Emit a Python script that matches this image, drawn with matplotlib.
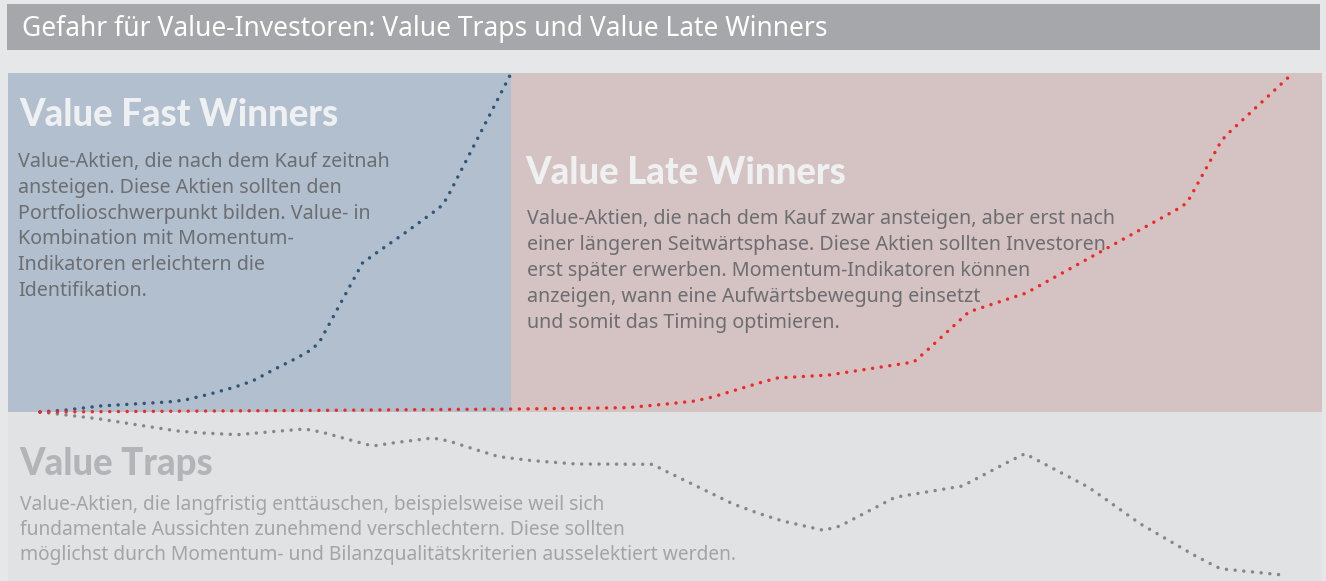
import matplotlib.pyplot as plt
from matplotlib.patches import Rectangle

# zeit (monate) und indexwerte, start = 100
t_fast = [0, 2.1, 4.8, 7.5, 10.2, 11.6, 13.6, 15.6, 17.0, 18.8, 20.7, 21.8, 22.4, 25.8, 26.9, 29.3, 31.6, 32.2, 32.6, 37.7]
v_fast = [100, 100.6, 101.8, 102.4, 103.0, 103.6, 105.4, 107.5, 109.3, 112.9, 116.5, 118.9, 121.3, 144.7, 147.7, 154.0, 160.3, 162.1, 164.5, 201.7]

t_late = [0, 20.8, 38.2, 47.0, 50.4, 52.4, 53.8, 57.8, 59.0, 63.1, 69.9, 71.0, 74.3, 75.0, 78.9, 91.3, 91.8, 94.5, 95.0, 99.9]
v_late = [100, 100.45, 100.9, 101.3, 102.5, 103.3, 104.5, 109.0, 110.2, 111.1, 115.0, 118.6, 130.0, 130.9, 135.7, 161.5, 163.0, 181.3, 183.4, 200.5]

t_trap = [0, 2.1, 4.8, 8.2, 11.0, 13.0, 15.8, 19.2, 21.2, 22.6, 25.3, 26.6, 28.6, 31.4, 32.7, 34.7, 36.7, 39.4, 42.9, 49.0,
          50.2, 55.4, 57.4, 59.4, 62.7, 64.0, 68.4, 69.0, 73.8, 77.5, 78.8, 83.8, 85.0, 88.0, 92.3, 94.2, 94.9, 99.7]
v_trap = [100, 99.1, 97.9, 95.9, 94.3, 93.7, 93.2, 94.3, 94.9, 93.9, 91.1, 89.8, 90.9, 92.2, 91.3, 88.9, 86.6, 85.4, 84.4, 84.3,
          82.0, 72.5, 69.7, 67.3, 64.5, 65.8, 74.4, 74.8, 77.8, 85.1, 87.5, 77.6, 74.5, 66.5, 57.1, 53.4, 52.8, 51.0]

titel = 'Gefahr für Value-Investoren: Value Traps und Value Late Winners'
txt_fast = ['Value-Aktien, die nach dem Kauf zeitnah',
            'ansteigen. Diese Aktien sollten den',
            'Portfolioschwerpunkt bilden. Value- in',
            'Kombination mit Momentum-',
            'Indikatoren erleichtern die',
            'Identifikation.']
txt_late = ['Value-Aktien, die nach dem Kauf zwar ansteigen, aber erst nach',
            'einer längeren Seitwärtsphase. Diese Aktien sollten Investoren',
            'erst später erwerben. Momentum-Indikatoren können',
            'anzeigen, wann eine Aufwärtsbewegung einsetzt',
            'und somit das Timing optimieren.']
txt_trap = ['Value-Aktien, die langfristig enttäuschen, beispielsweise weil sich',
            'fundamentale Aussichten zunehmend verschlechtern. Diese sollten',
            'möglichst durch Momentum- und Bilanzqualitätskriterien ausselektiert werden.']

W, H = 1326, 581
fig = plt.figure(figsize=(W / 100, H / 100), dpi=100, facecolor='#e6e7e9')


def fx(x):
    return x / W


def fy(y):
    return 1 - y / H


def box(x0, y0, x1, y1, c):
    fig.add_artist(Rectangle((fx(x0), fy(y1)), fx(x1 - x0), (y1 - y0) / H,
                             transform=fig.transFigure, color=c, lw=0, zorder=0))


box(7, 4, 1320, 50, '#a6a7aa')
box(8, 73, 511, 412, '#b1bfce')
box(511, 73, 1322, 412, '#d5c2c3')
box(8, 412, 1322, 581, '#e1e2e4')

body = 'Noto Sans'
head = 'Lato'

fig.text(fx(22), fy(29), titel, color='white', fontsize=19, family=body, va='center')

fig.text(fx(19), fy(115), 'Value Fast Winners', color='#eef0f2', fontsize=26.3, family=head,
         weight='black', va='center')
for i, s in enumerate(txt_fast):
    fig.text(fx(18), fy(162 + i * 25.8), s, color='#6d6e71', fontsize=14.2, family=body,
             weight='light', va='center')

fig.text(fx(525), fy(173), 'Value Late Winners', color='#eef0f2', fontsize=26.3, family=head,
         weight='black', va='center')
for i, s in enumerate(txt_late):
    fig.text(fx(527), fy(219 + i * 26), s, color='#6d6e71', fontsize=14.2, family=body,
             weight='light', va='center')

fig.text(fx(19), fy(464), 'Value Traps', color='#b3b4b7', fontsize=26.3, family=head,
         weight='black', va='center')
for i, s in enumerate(txt_trap):
    fig.text(fx(20), fy(505 + i * 25), s, color='#a3a4a7', fontsize=13.85, family=body,
             weight='light', va='center')

ax = fig.add_axes([0, 0, 1, 1])
ax.set_xlim(-3.2, 102.88)
ax.set_ylim(49.3, 223.6)
ax.axis('off')
ax.patch.set_alpha(0)

punkt = dict(lw=2.5, linestyle=(0, (0.01, 2.5)), dash_capstyle='round')
ax.plot(t_trap, v_trap, color='#86878a', **punkt)
ax.plot(t_fast, v_fast, color='#2f5577', **punkt)
ax.plot(t_late, v_late, color='#ee2a24', **punkt)

plt.savefig('out.png', dpi=100, facecolor=fig.get_facecolor())
